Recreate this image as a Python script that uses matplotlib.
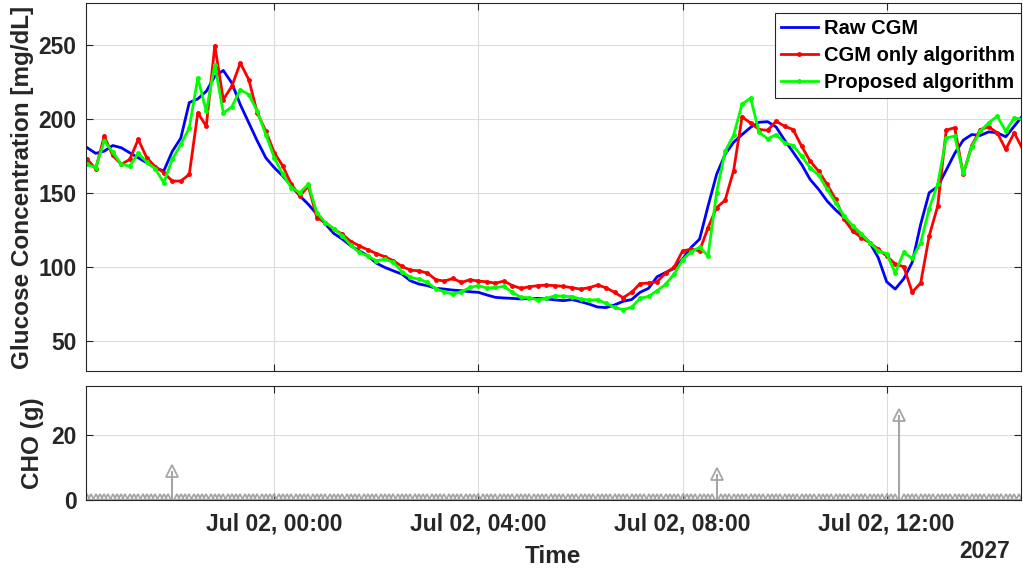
import numpy as np
import matplotlib
matplotlib.use('Agg')
import matplotlib.pyplot as plt
import matplotlib.dates as mdates

plt.rcParams['font.family'] = ['Liberation Sans', 'DejaVu Sans']
plt.rcParams['font.weight'] = 'bold'
plt.rcParams['axes.labelweight'] = 'bold'

# glucose samples every 10 min, 2027-07-01 20:20 -> 2027-07-02 14:40
t_start = np.datetime64('2027-07-01T20:20')
raw_cgm = [180.5, 176.7, 178.2, 182.0, 180.5, 177.1, 173.7, 170.4, 167.0, 164.8,
           178.0, 187.0, 211.0, 213.5, 218.6, 228.7, 232.7, 224.2, 209.6, 197.3,
           185.0, 173.7, 167.0, 161.4, 154.7, 148.0, 142.3, 135.6, 129.0, 122.6,
           118.8, 114.3, 110.9, 107.5, 102.6, 99.7, 97.4, 95.2, 90.7, 88.5,
           87.4, 85.6, 85.1, 84.4, 84.0, 83.3, 82.9, 81.1, 79.5, 79.1,
           78.8, 78.4, 78.8, 78.8, 78.4, 77.8, 77.3, 78.0, 76.6, 75.0,
           73.0, 72.6, 74.4, 76.8, 78.0, 82.9, 85.6, 93.4, 96.3, 99.0,
           105.3, 113.2, 118.8, 141.2, 162.5, 176.0, 184.2, 189.4, 194.3, 197.7,
           198.1, 194.5, 185.6, 177.5, 169.2, 159.1, 152.4, 144.5, 138.5, 133.3,
           127.7, 122.1, 116.5, 106.4, 90.0, 85.1, 92.0, 103.1, 128.9, 150.2,
           154.2, 165.4, 176.7, 185.6, 189.4, 188.8, 191.2, 190.6, 187.9, 195.1,
           202.2]
cgm_only = [172.6, 166.3, 188.3, 175.3, 169.3, 172.6, 186.1, 173.7, 167.7, 163.7,
            158.0, 158.0, 162.5, 204.0, 195.1, 249.3, 213.0, 222.0, 237.7, 226.5,
            204.0, 191.7, 177.1, 168.1, 155.8, 148.0, 154.6, 133.4, 130.0, 125.5,
            122.1, 117.2, 114.3, 111.6, 109.1, 106.9, 104.2, 100.4, 97.9, 97.4,
            95.9, 91.4, 90.5, 92.3, 89.6, 91.4, 90.5, 90.0, 89.1, 90.5,
            87.4, 85.6, 86.7, 87.4, 87.8, 87.4, 86.9, 86.0, 85.1, 86.0,
            87.8, 86.0, 82.9, 79.3, 82.9, 88.7, 89.2, 90.0, 95.9, 99.7,
            110.9, 112.0, 110.9, 126.6, 140.1, 145.0, 165.0, 201.3, 197.2, 192.8,
            192.3, 198.4, 195.0, 192.8, 181.5, 171.4, 164.7, 155.7, 145.7, 132.2,
            124.3, 119.9, 116.5, 112.0, 107.5, 102.0, 100.2, 83.0, 89.2, 121.0,
            141.2, 192.4, 194.0, 162.5, 182.0, 192.8, 194.6, 190.6, 179.4, 190.6,
            179.4]
proposed = [169.3, 167.0, 185.0, 177.6, 169.3, 168.1, 176.7, 170.8, 166.3, 156.9,
            172.6, 182.7, 193.9, 227.6, 205.1, 236.5, 204.0, 208.1, 219.7, 216.4,
            205.1, 189.4, 173.7, 162.5, 153.6, 150.2, 155.8, 136.7, 130.0, 125.9,
            121.0, 114.7, 109.8, 107.5, 104.2, 105.3, 103.1, 96.8, 93.0, 91.8,
            89.6, 85.1, 83.3, 81.7, 83.3, 86.2, 87.4, 85.8, 86.2, 86.9,
            82.9, 79.5, 79.3, 77.7, 78.8, 80.6, 80.2, 80.0, 78.4, 77.7,
            77.9, 75.5, 72.8, 71.2, 72.8, 78.8, 80.2, 84.0, 88.3, 95.2,
            104.9, 110.3, 113.2, 107.6, 150.2, 178.0, 189.0, 210.0, 214.0, 191.0,
            186.5, 189.4, 183.8, 182.0, 174.8, 167.0, 162.0, 152.4, 143.4, 134.4,
            127.7, 122.5, 116.5, 110.9, 109.0, 96.0, 109.8, 105.8, 116.5, 139.4,
            155.8, 187.2, 188.3, 163.2, 181.1, 191.7, 197.3, 201.8, 191.7, 200.7,
            199.5]

# meals (CHO) on a 5-min grid, zero elsewhere
meal_times = ['2027-07-01T22:00', '2027-07-02T08:40', '2027-07-02T12:15']
meal_grams = [9, 8, 26]

t = t_start + np.arange(len(raw_cgm)) * np.timedelta64(10, 'm')
t_cho = t_start + np.arange(221) * np.timedelta64(5, 'm')
cho = np.zeros(len(t_cho))
for mt, g in zip(meal_times, meal_grams):
    cho[t_cho == np.datetime64(mt)] = g

txt = '#262626'
grey = '#a6a6a6'

fig = plt.figure(figsize=(10.23, 5.69), dpi=100)
ax1 = fig.add_axes([0.0836, 0.3485, 0.9145, 0.6457])
ax2 = fig.add_axes([0.0836, 0.121, 0.9145, 0.2004])

ax1.plot(t, raw_cgm, color='b', lw=2, label='Raw CGM')
ax1.plot(t, cgm_only, color='r', lw=2, marker='.', ms=5, label='CGM only algorithm')
ax1.plot(t, proposed, color=(0, 1, 0), lw=2, marker='.', ms=5, label='Proposed algorithm')

x_cho = mdates.date2num(t_cho)
ml, sl, bl = ax2.stem(x_cho, cho, linefmt='-', markerfmt='^', basefmt='-')
ml.set_color(grey)
ml.set_markerfacecolor('none')
ml.set_markersize(8)
ml.set_markeredgewidth(1.3)
sl.set_color(grey)
sl.set_linewidth(1.5)
bl.set_color(grey)
bl.set_linewidth(1.5)

xlim = (np.datetime64('2027-07-01T20:18'), np.datetime64('2027-07-02T14:38'))
for ax in (ax1, ax2):
    ax.set_xlim(mdates.date2num(xlim[0]), mdates.date2num(xlim[1]))
    ax.xaxis.set_major_locator(mdates.HourLocator(byhour=[0, 4, 8, 12]))
    ax.xaxis.set_major_formatter(mdates.DateFormatter('%b %d, %H:%M'))
    ax.grid(True, color='#dcdcdc', lw=0.8)
    ax.set_axisbelow(True)
    ax.tick_params(direction='in', top=True, right=True, length=5, width=0.8,
                   colors=txt, labelsize=16.5)
    ax.tick_params(axis='x', pad=9)
    ax.tick_params(axis='y', pad=6.5)
    for s in ax.spines.values():
        s.set_color(txt)
        s.set_linewidth(0.8)

ax1.set_ylim(30, 278)
ax1.set_yticks([50, 100, 150, 200, 250])
ax1.tick_params(labelbottom=False)
ax1.set_ylabel('Glucose Concentration [mg/dL]', fontsize=17.5, color=txt, labelpad=3)

ax2.set_ylim(0, 35)
ax2.set_yticks([0, 20])
ax2.set_ylabel('CHO (g)', fontsize=17.5, color=txt, labelpad=5)
ax2.set_xlabel('Time', fontsize=17.5, color=txt, labelpad=7)

leg = ax1.legend(loc='upper right', bbox_to_anchor=(0.9995, 0.973), borderaxespad=0,
                 fontsize=14.5, fancybox=False, framealpha=1, edgecolor=txt,
                 handlelength=1.8, handletextpad=0.3, labelspacing=0.38, borderpad=0.3)
leg.get_frame().set_linewidth(0.8)
for tx in leg.get_texts():
    tx.set_color('black')

fig.text(1010 / 1023, 1 - 551 / 569, '2027', ha='right', va='center',
         fontsize=16.5, color=txt)

fig.savefig('out.png', dpi=100)
